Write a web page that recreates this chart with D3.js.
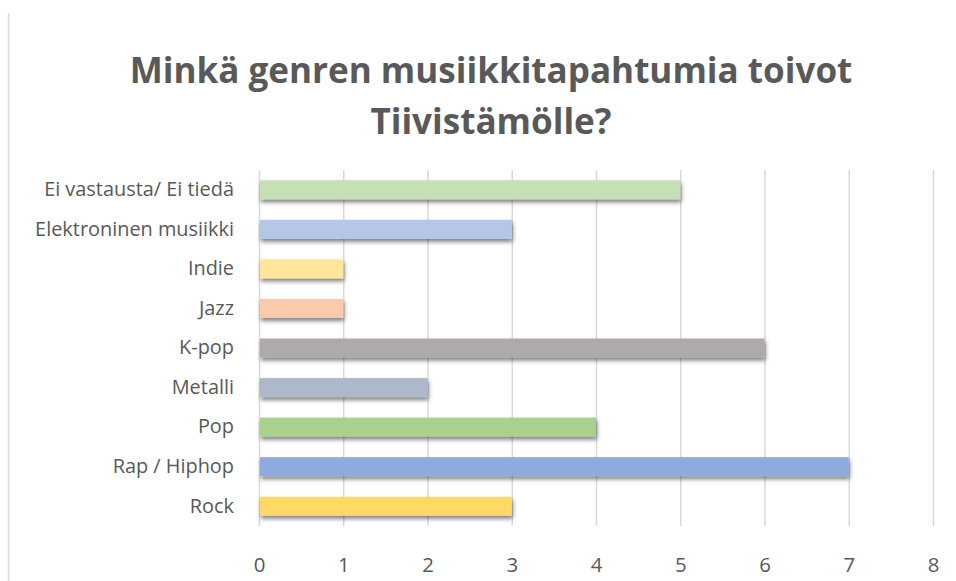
<!DOCTYPE html>
<html>
<head>
<meta charset="utf-8">
<script src="https://cdn.jsdelivr.net/npm/d3@7"></script>
<style>
  html, body { margin: 0; padding: 0; background: #fff; }
  svg { display: block; }
</style>
</head>
<body>
<svg id="chart" width="956" height="581"></svg>
<script>
const titleLines = ["Minkä genren musiikkitapahtumia toivot", "Tiivistämölle?"];
const categories = ["Ei vastausta/ Ei tiedä", "Elektroninen musiikki", "Indie", "Jazz", "K-pop", "Metalli", "Pop", "Rap / Hiphop", "Rock"];
const values = [5, 3, 1, 1, 6, 2, 4, 7, 3];
const colors = ["#C5E0B4", "#B4C7E7", "#FFE699", "#F8CBAD", "#AEAAAA", "#ADB9CA", "#A9D18E", "#8FAADC", "#FFD966"];
const tickValues = [0, 1, 2, 3, 4, 5, 6, 7, 8];

const svg = d3.select("#chart");
const FONT = "'Open Sans', Lato, sans-serif";
const textColor = "#595959";
const gridColor = "#D9D9D9";

svg.append("line").attr("x1", 8.5).attr("x2", 8.5).attr("y1", 13).attr("y2", 581)
  .attr("stroke", gridColor).attr("stroke-width", 1.5);

const defs = svg.append("defs");
const f = defs.append("filter").attr("id", "shadow").attr("x", "-5%").attr("y", "-30%").attr("width", "115%").attr("height", "180%");
f.append("feDropShadow").attr("dx", 1).attr("dy", 3).attr("stdDeviation", 2)
  .attr("flood-color", "#000").attr("flood-opacity", 0.5);

const x = d3.scaleLinear().domain([0, 8]).range([259, 933]);
const y = d3.scaleBand().domain(categories).range([170, 526]).paddingInner(0.52).paddingOuter(0.26);

svg.append("g").selectAll("line").data(tickValues).join("line")
  .attr("x1", d => x(d) + 0.5).attr("x2", d => x(d) + 0.5)
  .attr("y1", 170).attr("y2", 526)
  .attr("stroke", gridColor).attr("stroke-width", 1.5);

svg.append("g").selectAll("rect").data(categories).join("rect")
  .attr("x", x(0) + 1)
  .attr("y", d => y(d))
  .attr("width", (d, i) => x(values[i]) - x(0) - 1)
  .attr("height", y.bandwidth())
  .attr("fill", (d, i) => colors[i])
  .attr("filter", "url(#shadow)");

const yAxis = d3.axisLeft(y).tickSize(0).tickPadding(25);
const yg = svg.append("g").attr("transform", `translate(${x(0)},0)`).call(yAxis);
yg.select(".domain").remove();
yg.selectAll("text").attr("fill", textColor).style("font-family", FONT).style("font-size", "17px");
let maxW = 0;
yg.selectAll("text").each(function() { maxW = Math.max(maxW, this.getComputedTextLength()); });
const labelSize = 17 * 199 / maxW;
yg.selectAll("text").style("font-size", labelSize + "px");

const xAxis = d3.axisBottom(x).tickValues(tickValues).tickSize(0).tickPadding(32).tickFormat(d3.format("d"));
const xg = svg.append("g").attr("transform", `translate(0,526)`).call(xAxis);
xg.select(".domain").remove();
xg.selectAll("text").attr("fill", textColor).style("font-family", FONT).style("font-size", (labelSize + 0.5) + "px");

const tg = svg.append("g");
const titleY = [83, 134];
const titleTexts = titleLines.map((t, i) => tg.append("text").attr("x", 491).attr("y", titleY[i]).attr("text-anchor", "middle")
    .attr("fill", textColor).style("font-family", FONT).style("font-weight", "bold")
    .style("font-size", "30px").text(t));
const w0 = titleTexts[0].node().getComputedTextLength();
const titleSize = 30 * 723 / w0;
titleTexts.forEach(t => t.style("font-size", titleSize + "px"));
</script>
</body>
</html>
